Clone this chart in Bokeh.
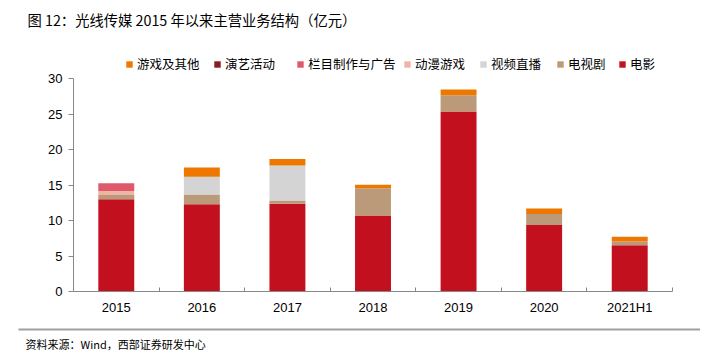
from bokeh.plotting import figure
from bokeh.models import (ColumnDataSource, Range1d, FixedTicker, Legend, LegendItem)
from bokeh.layouts import column
from bokeh.core.properties import value
from bokeh.embed import file_html
from bokeh.resources import INLINE

years = ["2015", "2016", "2017", "2018", "2019", "2020", "2021H1"]
film = [13.0, 12.3, 12.35, 10.7, 25.35, 9.35, 6.5]          # 电影
tv = [0.6, 1.35, 0.45, 3.85, 2.3, 1.55, 0.55]               # 电视剧
video = [0.0, 2.5, 4.95, 0.0, 0.0, 0.0, 0.0]                # 视频直播
anime = [0.55, 0.0, 0.0, 0.0, 0.0, 0.0, 0.0]                # 动漫游戏
column_ad = [1.1, 0.0, 0.0, 0.0, 0.0, 0.0, 0.0]             # 栏目制作与广告
shows = [0.0, 0.0, 0.0, 0.0, 0.0, 0.0, 0.0]                 # 演艺活动
games = [0.0, 1.3, 0.9, 0.5, 0.8, 0.8, 0.65]                # 游戏及其他
y_ticks = [0, 5, 10, 15, 20, 25, 30]

names = ["电影", "电视剧", "视频直播", "动漫游戏", "栏目制作与广告", "演艺活动", "游戏及其他"]
keys = ["film", "tv", "video", "anime", "column_ad", "shows", "games"]
colors = ["#C3101E", "#BA9A78", "#D4D4D4", "#EEB4A6", "#DE5A6B", "#8E1A1E", "#EE7700"]
title_text = "图 12：光线传媒 2015 年以来主营业务结构（亿元）"
source_text = "资料来源：Wind，西部证券研发中心"

xs = [i + 0.5 for i in range(len(years))]
source = ColumnDataSource(dict(x=xs, film=film, tv=tv, video=video, anime=anime,
                               column_ad=column_ad, shows=shows, games=games))

W = 700
HEAD_H = 48
MAIN_H = 276
FOOT_H = 28
FL, FR, FB = 73, 28, 33
n = len(years)
frame_h = MAIN_H - FB
px_y = 213 / 30.0
y_top = frame_h / px_y

def blank(height):
    fig = figure(width=W, height=height, output_backend="svg", toolbar_location=None,
                 x_range=Range1d(0, W), y_range=Range1d(height, 0), min_border=0,
                 x_axis_location=None, y_axis_location=None, frame_align=False)
    fig.grid.visible = False
    fig.outline_line_color = None
    return fig

# header: title
h = blank(HEAD_H)
h.text(x=[27], y=[19], text=[title_text], text_font=value("Noto Sans CJK SC"),
       text_font_size="14.3px", text_baseline="middle", text_color="#000000")

# main chart
p = figure(width=W, height=MAIN_H, output_backend="svg", toolbar_location=None,
           x_range=Range1d(0, n), y_range=Range1d(0, y_top), frame_align=False,
           min_border_left=FL, min_border_right=FR, min_border_top=0, min_border_bottom=FB)
p.outline_line_color = None
p.grid.visible = False

rs = p.vbar_stack(keys, x="x", width=0.42, color=colors, line_color=None, source=source)

xa = p.xaxis[0]
xa.ticker = FixedTicker(ticks=xs, minor_ticks=list(range(1, n + 1)))
xa.major_label_overrides = {x: y for x, y in zip(xs, years)}
xa.major_tick_line_color = None
xa.minor_tick_in = 4
xa.minor_tick_out = 0
xa.minor_tick_line_color = "#888888"
xa.axis_line_color = "#888888"
xa.major_label_text_font = "Liberation Sans"
xa.major_label_text_font_size = "13px"
xa.major_label_text_color = "#000000"
xa.major_label_standoff = 2

ya = p.yaxis[0]
ya.ticker = FixedTicker(ticks=y_ticks)
ya.bounds = (0, 30)
ya.minor_tick_line_color = None
ya.major_tick_in = 0
ya.major_tick_out = 5
ya.major_tick_line_color = "#888888"
ya.axis_line_color = "#888888"
ya.major_label_text_font = "Liberation Sans"
ya.major_label_text_font_size = "13px"
ya.major_label_text_color = "#000000"
ya.major_label_standoff = 6

legend_order = [6, 5, 4, 3, 2, 1, 0]
legend_px = [125, 213, 296, 403, 479, 556, 618]
for idx, lx in zip(legend_order, legend_px):
    lg = Legend(items=[LegendItem(label=names[idx], renderers=[rs[idx]])],
                location=(lx - FL, 218), orientation="horizontal",
                background_fill_alpha=0, border_line_color=None, padding=0, margin=0,
                glyph_width=8, glyph_height=8, label_height=14, label_standoff=4,
                label_text_font="Noto Sans CJK SC", label_text_font_size="12.5px",
                label_text_color="#000000")
    p.add_layout(lg, "center")

# footer: separator line and source note
f = blank(FOOT_H)
f.segment(x0=[18], y0=[5], x1=[W], y1=[5], line_color="#A0A0A0", line_width=2)
f.text(x=[25], y=[19], text=[source_text], text_font=value("Noto Sans CJK SC"),
       text_font_size="11px", text_baseline="middle", text_color="#000000")

open("out.html", "w").write(file_html(column(h, p, f, spacing=0), INLINE))
